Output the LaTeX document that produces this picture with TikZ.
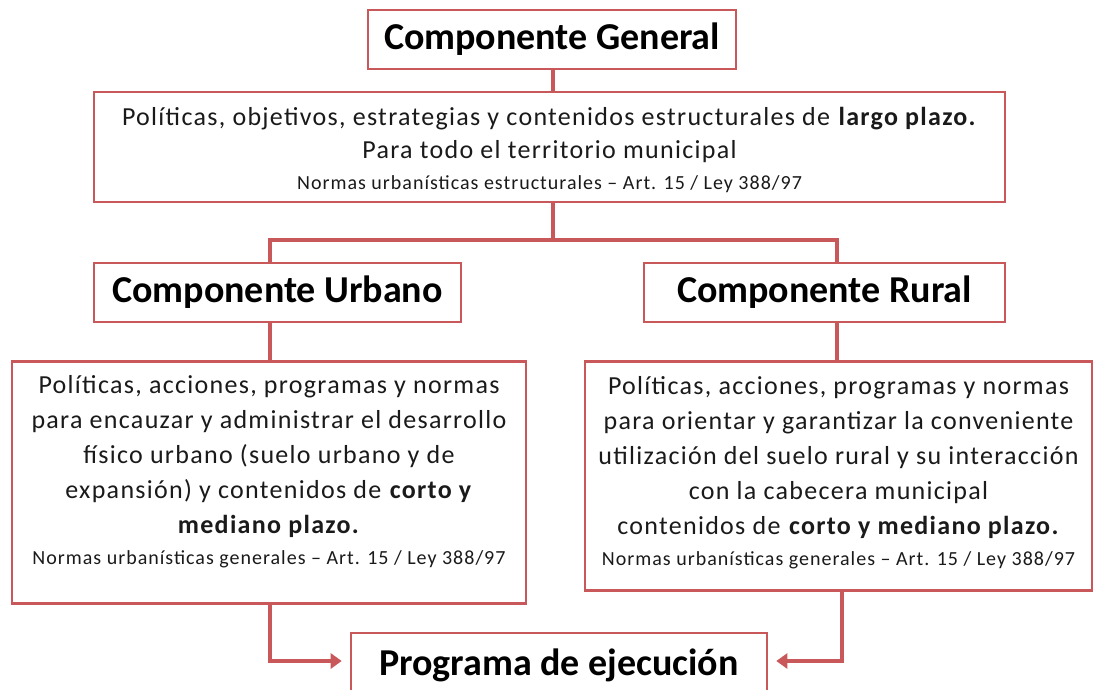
\documentclass[tikz,border=0pt]{standalone}
\usepackage{fontspec}
\setmainfont{Carlito}
\newfontfamily\bodyfont{Carlito}[LetterSpace=5]
\usetikzlibrary{arrows.meta}
\definecolor{boxred}{HTML}{C9585A}
\definecolor{txt}{HTML}{1A1A1A}
\begin{document}
\begin{tikzpicture}[x=1pt,y=-1pt,
  box/.style={draw=boxred, line width=2.6pt, fill=white, inner sep=0pt, align=center, text=txt},
  title/.style={font=\bfseries\fontsize{38}{44}\selectfont, text=black},
  body/.style={font=\bodyfont\fontsize{26}{35}\selectfont},
  link/.style={draw=boxred, line width=3.8pt},
  arr/.style={link, -{Triangle[width=15pt,length=11pt]}, shorten >=8pt}]
\useasboundingbox (0,0) rectangle (1097,689);
\newcommand{\smallnote}[1]{{\fontsize{20}{24}\selectfont #1}}

\node[box, title, minimum width=368pt, minimum height=59pt] (gen) at (552,39.5) {Componente General};

\node[box, font=\bodyfont\fontsize{26}{33}\selectfont, minimum width=911pt, minimum height=110pt] (pol) at (549.5,147)
  {\rule{0pt}{24pt}Políticas, objetivos, estrategias y contenidos estructurales de \textbf{largo plazo.}\\
   Para todo el territorio municipal\\[-2pt]
   \smallnote{Normas urbanísticas estructurales – Art. 15 / Ley 388/97}};

\node[box, title, minimum width=367pt, minimum height=59pt] (urb) at (277.5,292.5) {Componente Urbano};
\node[box, title, minimum width=361pt, minimum height=59pt] (rur) at (824.5,292.5) {Componente Rural};

\node[box, body, minimum width=514pt, minimum height=242pt] (urbd) at (269,482.5)
  {Políticas, acciones, programas y normas\\
   para encauzar y administrar el desarrollo\\
   físico urbano (suelo urbano y de\\
   expansión) y contenidos de \textbf{corto y}\\
   \textbf{mediano plazo.}\\[-4pt]
   \smallnote{Normas urbanísticas generales – Art. 15 / Ley 388/97}\rule[-25pt]{0pt}{0pt}};

\node[box, body, minimum width=507pt, minimum height=229pt] (rurd) at (838.5,476)
  {Políticas, acciones, programas y normas\\
   para orientar y garantizar la conveniente\\
   utilización del suelo rural y su interacción\\
   con la cabecera municipal\\
   contenidos de \textbf{corto y mediano plazo.}\\[-4pt]
   \smallnote{Normas urbanísticas generales – Art. 15 / Ley 388/97}\rule[-10pt]{0pt}{0pt}};

\node[box, title, minimum width=416pt, minimum height=64pt] (prog) at (559,665) {Programa de ejecución};

\coordinate (hub) at (553,240);
\coordinate (hl) at (270,240);
\coordinate (hr) at (837,240);
\coordinate (al) at (270,661);
\coordinate (ar) at (842,661);

\draw[link] (gen.south -| hub) -- (pol.north -| hub);
\draw[link] (pol.south -| hub) -- (hub);
\draw[link] (urb.north -| hl) -- (hl) -- (hr) -- (rur.north -| hr);
\draw[link] (urb.south -| hl) -- (urbd.north -| hl);
\draw[link] (rur.south -| hr) -- (rurd.north -| hr);
\draw[arr] (urbd.south -| al) -- (al) -- (al -| prog.west);
\draw[arr] (rurd.south -| ar) -- (ar) -- (ar -| prog.east);
\end{tikzpicture}
\end{document}
